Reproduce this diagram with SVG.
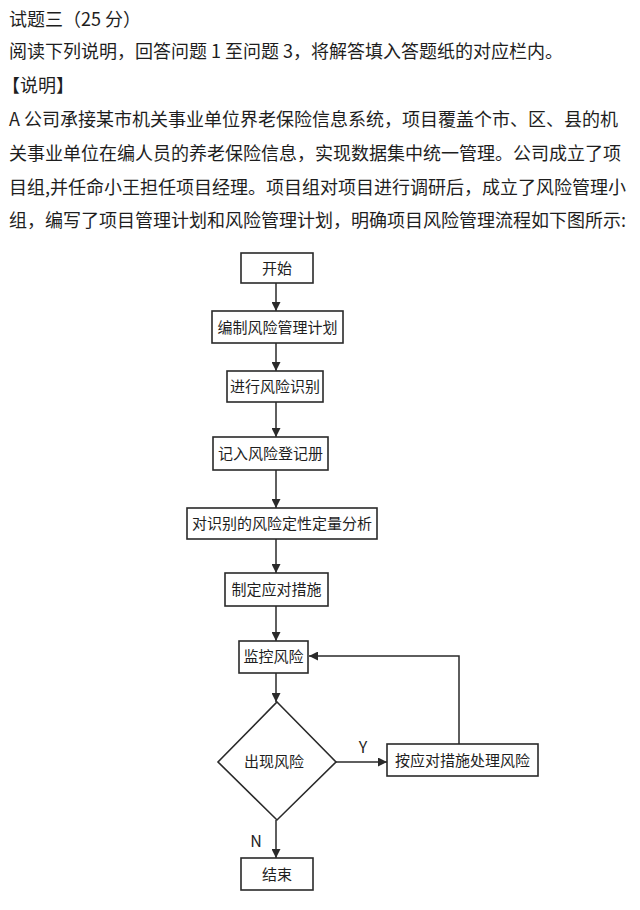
<svg xmlns="http://www.w3.org/2000/svg" width="640" height="910" viewBox="0 0 640 910">
<defs>
<marker id="arr" viewBox="0 0 10 10" refX="10" refY="5" markerWidth="9" markerHeight="9" markerUnits="userSpaceOnUse" orient="auto">
<path d="M0,0 L10,5 L0,10 Z" fill="#2a2a2a"/>
</marker>
<style>
.t{font-family:"Noto Sans CJK SC","Noto Sans",sans-serif;font-size:18px;fill:#1e1e1e}
.n rect,.n polygon{fill:#fff;stroke:#2a2a2a;stroke-width:1.6}
.n text{font-family:"Noto Sans CJK SC","Noto Sans",sans-serif;font-size:15px;fill:#1e1e1e;text-anchor:middle}
.c path{fill:none;stroke:#2a2a2a;stroke-width:1.5;marker-end:url(#arr)}
.lbl{font-family:"Noto Sans CJK SC","Noto Sans",sans-serif;font-size:16px;fill:#1e1e1e;text-anchor:middle}
</style>
</defs>
<rect width="640" height="910" fill="#fff"/>
<g id="header">
<text class="t" x="9" y="26">试题三（25 分）</text>
<text class="t" x="9" y="58">阅读下列说明，回答问题 1 至问题 3，将解答填入答题纸的对应栏内。</text>
<text class="t" x="2" y="92">【说明】</text>
<text class="t" x="9" y="126">A 公司承接某市机关事业单位界老保险信息系统，项目覆盖个市、区、县的机</text>
<text class="t" x="9" y="160">关事业单位在编人员的养老保险信息，实现数据集中统一管理。公司成立了项</text>
<text class="t" x="9" y="194">目组,并任命小王担任项目经理。项目组对项目进行调研后，成立了风险管理小</text>
<text class="t" x="9" y="227">组，编写了项目管理计划和风险管理计划，明确项目风险管理流程如下图所示:</text>
</g>
<g id="connectors" class="c">
<path d="M276,283 V311"/>
<path d="M276,343 V371"/>
<path d="M276,402 V437"/>
<path d="M276,470 V508"/>
<path d="M276,539 V573"/>
<path d="M276,606 V641"/>
<path d="M276,673 V702"/>
<path d="M336,762 H387"/>
<path d="M459,744 V656 H309"/>
<path d="M276,820 V858"/>
</g>
<g id="labels">
<text class="lbl" x="363" y="753">Y</text>
<text class="lbl" x="256" y="847">N</text>
</g>
<g id="start" class="n"><rect x="241" y="253" width="72" height="30"/><text x="277" y="273.5">开始</text></g>
<g id="plan" class="n"><rect x="212" y="311" width="131" height="32"/><text x="277.5" y="332.5">编制风险管理计划</text></g>
<g id="identify" class="n"><rect x="227" y="371" width="96" height="31"/><text x="275" y="392">进行风险识别</text></g>
<g id="register" class="n"><rect x="213" y="437" width="115" height="33"/><text x="270.5" y="459">记入风险登记册</text></g>
<g id="analyze" class="n"><rect x="187" y="508" width="190" height="31"/><text x="282" y="529">对识别的风险定性定量分析</text></g>
<g id="measures" class="n"><rect x="225" y="573" width="103" height="33"/><text x="276.5" y="594.5">制定应对措施</text></g>
<g id="monitor" class="n"><rect x="239" y="641" width="69" height="32"/><text x="273.5" y="662">监控风险</text></g>
<g id="decision" class="n"><polygon points="277,702 336,762 277,820 218,762"/><text x="274" y="767">出现风险</text></g>
<g id="handle" class="n"><rect x="387" y="744" width="151" height="32"/><text x="462.5" y="765.5">按应对措施处理风险</text></g>
<g id="end" class="n"><rect x="241" y="858" width="72" height="32"/><text x="277" y="879.5">结束</text></g>
</svg>
